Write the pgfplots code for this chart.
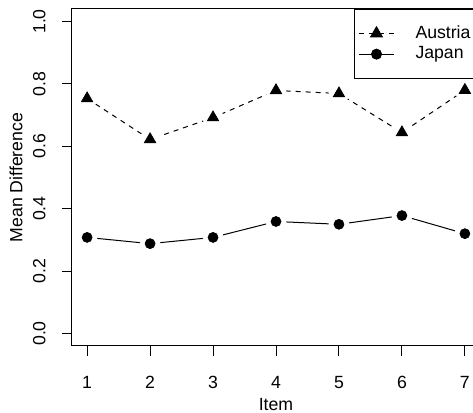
\documentclass[border=0pt]{standalone}
\usepackage{fontspec}
\setmainfont{Liberation Sans}
\usepackage{pgfplots}
\pgfplotsset{compat=1.18}
\begin{document}
\begin{tikzpicture}
% the reference is cut off on the right, through the box and legend
\path[use as bounding box, clip] (-43.2pt,-40.2pt) rectangle (240.6pt,207.6pt);
\begin{axis}[
  scale only axis, width=244.8pt, height=202.2pt,
  xmin=0.76, xmax=7.24, ymin=-0.04, ymax=1.04,
  xtick={1,2,3,4,5,6,7}, ytick={0,0.2,0.4,0.6,0.8,1},
  tick align=outside, tick pos=left, major tick length=6pt,
  tick style={black, line width=0.6pt},
  axis line style={line width=0.6pt},
  font=\fontsize{10.6}{12.7}\selectfont,
  /pgf/number format/assume math mode=true,
  xticklabel style={anchor=north, inner sep=0pt},
  xticklabel shift=12pt,
  yticklabel style={rotate=90, anchor=south, inner sep=0pt,
    /pgf/number format/fixed, /pgf/number format/fixed zerofill,
    /pgf/number format/precision=1},
  yticklabel shift=9.6pt,
  xlabel={Item}, ylabel={Mean Difference},
  every axis x label/.style={at={(axis description cs:0.5,-0.1543)}, anchor=north, inner sep=0pt},
  every axis y label/.style={at={(axis description cs:-0.1201,0.5)}, rotate=90, anchor=south, inner sep=0pt},
  legend image code/.code={\draw[mark repeat=2, mark phase=2] plot coordinates {(0pt,0pt) (10.5pt,0pt) (21pt,0pt)};},
  legend style={at={(1,1)}, anchor=north east, draw=black, line width=0.6pt, fill=white,
    inner xsep=2.4pt, inner ysep=8.2pt, row sep=0pt,
    nodes={inner sep=0pt, minimum height=12.4pt, text width=36pt},
    /tikz/every odd column/.style={column sep=12.6pt}},
  legend cell align=left,
]
% lines
\addplot[forget plot, black, line width=0.6pt, dash pattern=on 3pt off 3pt] coordinates {
  (1,0.753) (2,0.622) (3,0.692) (4,0.779) (5,0.769) (6,0.644) (7,0.780)};
\addplot[forget plot, black, line width=0.6pt] coordinates {
  (1,0.308) (2,0.288) (3,0.308) (4,0.359) (5,0.350) (6,0.378) (7,0.320)};
% white gaps round the points, as R's type="b"
\addplot[forget plot, only marks, mark=*, mark size=6pt, white] coordinates {
  (1,0.753) (2,0.622) (3,0.692) (4,0.779) (5,0.769) (6,0.644) (7,0.780)};
\addplot[forget plot, only marks, mark=*, mark size=6pt, white] coordinates {
  (1,0.308) (2,0.288) (3,0.308) (4,0.359) (5,0.350) (6,0.378) (7,0.320)};
% points
\addplot[forget plot, only marks, mark=triangle*, mark size=4pt, black] coordinates {
  (1,0.753) (2,0.622) (3,0.692) (4,0.779) (5,0.769) (6,0.644) (7,0.780)};
\addplot[forget plot, only marks, mark=*, mark size=3pt, black] coordinates {
  (1,0.308) (2,0.288) (3,0.308) (4,0.359) (5,0.350) (6,0.378) (7,0.320)};
\addlegendimage{black, line width=0.6pt, dash pattern=on 3pt off 3pt, mark=triangle*, mark size=4pt, mark options={solid}}
\addlegendentry{Austria}
\addlegendimage{black, line width=0.6pt, mark=*, mark size=3pt}
\addlegendentry{Japan}
\end{axis}
\end{tikzpicture}
\end{document}
